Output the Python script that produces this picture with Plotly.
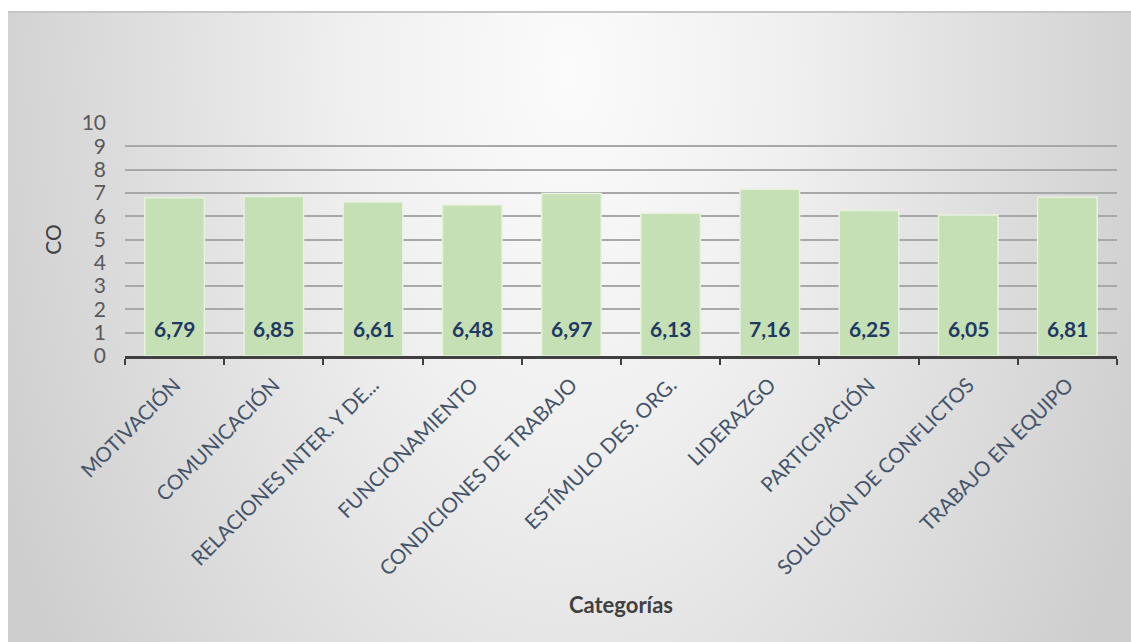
import base64
import plotly.graph_objects as go

categorias = [
    "MOTIVACIÓN", "COMUNICACIÓN", "RELACIONES INTER. Y DE...", "FUNCIONAMIENTO",
    "CONDICIONES DE TRABAJO", "ESTÍMULO DES. ORG.", "LIDERAZGO", "PARTICIPACIÓN",
    "SOLUCIÓN DE CONFLICTOS", "TRABAJO EN EQUIPO",
]
co = [6.79, 6.85, 6.61, 6.48, 6.97, 6.13, 7.16, 6.25, 6.05, 6.81]
y_ticks = list(range(0, 11))

W, H = 1131, 642
L, R, T, B = 125, 14, 123, 286
# chart-area box (pixels) holding the grey radial backdrop
BX, BY = 8, 11
BW, BH = W - BX, H - BY

svg = f"""<svg xmlns='http://www.w3.org/2000/svg' width='{BW}' height='{BH}' viewBox='0 0 {BW} {BH}' preserveAspectRatio='none'>
<defs><radialGradient id='g' gradientUnits='userSpaceOnUse' cx='0' cy='0' r='1'
 gradientTransform='translate({BW/2} 60) scale(620 1050)'>
<stop offset='0' stop-color='#fbfbfb'/><stop offset='0.35' stop-color='#f0f0f0'/>
<stop offset='0.65' stop-color='#e0e0e0'/><stop offset='1' stop-color='#cecece'/>
</radialGradient></defs>
<rect x='0' y='0' width='{BW}' height='{BH}' fill='url(#g)'/>
<line x1='0' y1='1' x2='{BW}' y2='1' stroke='#c6c6c6' stroke-width='2'/>
</svg>"""
src = "data:image/svg+xml;base64," + base64.b64encode(svg.encode()).decode()

pw, ph = W - L - R, H - T - B

fig = go.Figure(
    go.Bar(
        x=categorias, y=co, width=0.6,
        marker=dict(color="#C5E0B4", line=dict(color="#E6F2DE", width=1.5)),
        hoverinfo="skip",
    )
)

# value labels sitting near the base of each bar
for cat, v in zip(categorias, co):
    fig.add_annotation(
        x=cat, y=0, text=f"{v:.2f}".replace(".", ","), showarrow=False,
        yanchor="bottom", yshift=13,
        font=dict(family="Lato", size=21, color="#1F3864", weight="bold"),
    )

fig.update_layout(
    width=W, height=H, margin=dict(l=L, r=R, t=T, b=B, pad=0),
    paper_bgcolor="white", plot_bgcolor="rgba(0,0,0,0)",
    showlegend=False, bargap=0.4,
    font=dict(family="Lato"),
    images=[dict(
        source=src, xref="paper", yref="paper",
        x=(BX - L) / pw, y=(H - B - BY) / ph,
        sizex=BW / pw, sizey=BH / ph,
        xanchor="left", yanchor="top", sizing="stretch", layer="below",
    )],
)

fig.update_xaxes(
    tickangle=-45, tickfont=dict(family="Lato", size=20.5, color="#44546A"),
    showline=True, linecolor="#404040", linewidth=3,
    ticks="outside", tickson="boundaries", ticklen=6, tickwidth=2, tickcolor="#404040",
    ticklabelstandoff=6, showgrid=False,
    title=dict(text="Categorías", font=dict(family="Lato", size=22, color="#404040", weight="bold"),
               standoff=19),
)
fig.update_yaxes(
    range=[0, 10], tickvals=y_ticks, ticktext=[str(v) for v in y_ticks],
    tickfont=dict(family="Lato", size=21, color="#595959"),
    showgrid=True, gridcolor="#a8a8a8", gridwidth=1.8, zeroline=False,
    ticks="", ticklabelstandoff=18,
    title=dict(text="CO", font=dict(family="Lato", size=21, color="#404040"), standoff=14),
)

fig.write_html("out.html")
